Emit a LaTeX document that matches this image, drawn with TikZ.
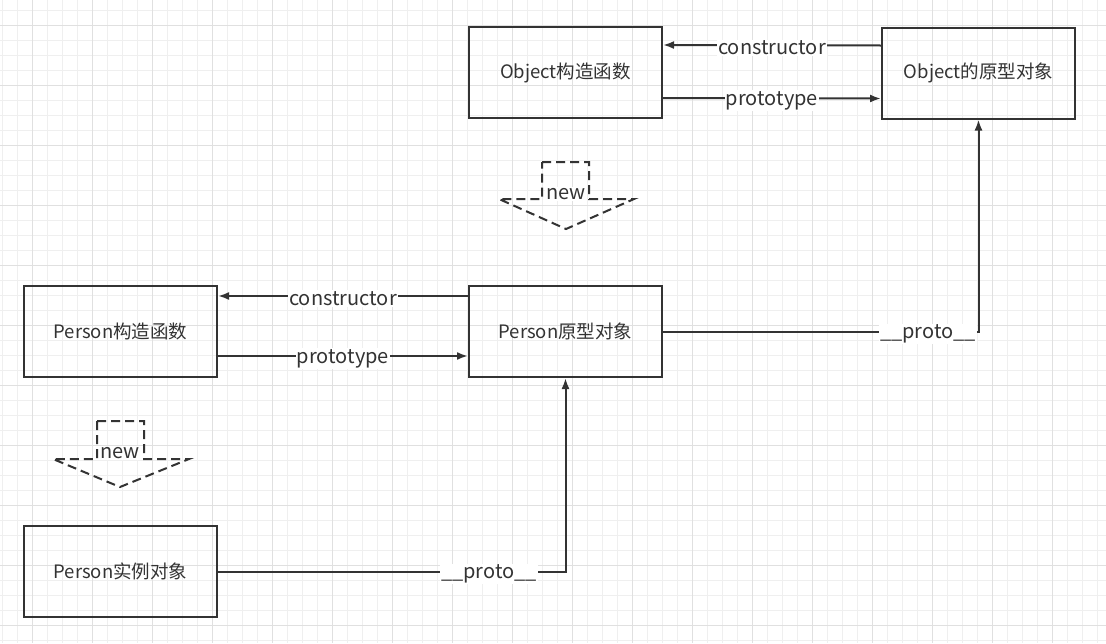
\documentclass[tikz,border=0pt]{standalone}
\usepackage{fontspec}
\setmainfont{Noto Sans CJK SC}
\usetikzlibrary{arrows.meta}
\definecolor{ink}{HTML}{333333}
\definecolor{gridminor}{HTML}{EFEFEF}
\definecolor{gridmajor}{HTML}{E0E0E0}
\begin{document}
\begin{tikzpicture}[x=1pt,y=-1pt,
    box/.style={draw=ink,line width=2pt,minimum width=193pt,minimum height=91pt,text=ink,font=\fontsize{18.5}{22}\selectfont},
    link/.style={draw=ink,line width=2pt,-{Latex[length=11pt,width=8pt]}},
    lbl/.style={fill=white,inner sep=1pt,yshift=-2.5pt,text=ink,font=\fontsize{20}{24}\selectfont},
    newarrow/.style={draw=ink,line width=2pt,dash pattern=on 9pt off 5pt},
    newlbl/.style={fill=white,inner sep=1pt,text=ink,font=\fontsize{20}{24}\selectfont}]
  \useasboundingbox (0,0) rectangle (1106,643);
  \fill[white] (0,0) rectangle (1106,643);
  \foreach \x in {2,17,...,1106} \draw[gridminor,line width=0.8pt] (\x,0) -- (\x,643);
  \foreach \y in {10,25,...,643} \draw[gridminor,line width=0.8pt] (0,\y) -- (1106,\y);
  \foreach \x in {32,92,...,1106} \draw[gridmajor,line width=0.8pt] (\x,0) -- (\x,643);
  \foreach \y in {25,85,...,643} \draw[gridmajor,line width=0.8pt] (0,\y) -- (1106,\y);

  \node[box] (objfunc) at (565.5,72.5) {Object构造函数};
  \node[box] (objproto) at (978.5,73) {Object的原型对象};
  \node[box] (pfunc) at (120.5,331.5) {Person构造函数};
  \node[box] (pproto) at (565.5,331.5) {Person原型对象};
  \node[box] (pinst) at (120.5,571.5) {Person实例对象};

  \draw[link] ([yshift=27.5pt]objproto.west) -- node[lbl] {constructor} ([yshift=27.5pt]objfunc.east);
  \draw[link] ([yshift=-25.5pt]objfunc.east) -- node[lbl] {prototype} ([yshift=-25.5pt]objproto.west);
  \draw[link] ([yshift=35.5pt]pproto.west) -- node[lbl] {constructor} ([yshift=35.5pt]pfunc.east);
  \draw[link] ([yshift=-24.5pt]pfunc.east) -- node[lbl] {prototype} ([yshift=-24.5pt]pproto.west);
  \draw[link] (pproto.east) -| node[lbl,pos=0.42] {\_\_proto\_\_} (objproto.south);
  \draw[link] (pinst.east) -| node[lbl,pos=0.39] {\_\_proto\_\_} (pproto.south);

  \draw[newarrow] (542,162) -- (589,162) -- (589,199) -- (634,199) -- (566,229) -- (499,199) -- (542,199) -- cycle;
  \node[newlbl] (objnew) at (566,194) {new};
  \draw[newarrow] (97,421) -- (144,421) -- (144,459) -- (189,459) -- (120,487) -- (53,459) -- (97,459) -- cycle;
  \node[newlbl] (pnew) at (120,453) {new};
\end{tikzpicture}
\end{document}
